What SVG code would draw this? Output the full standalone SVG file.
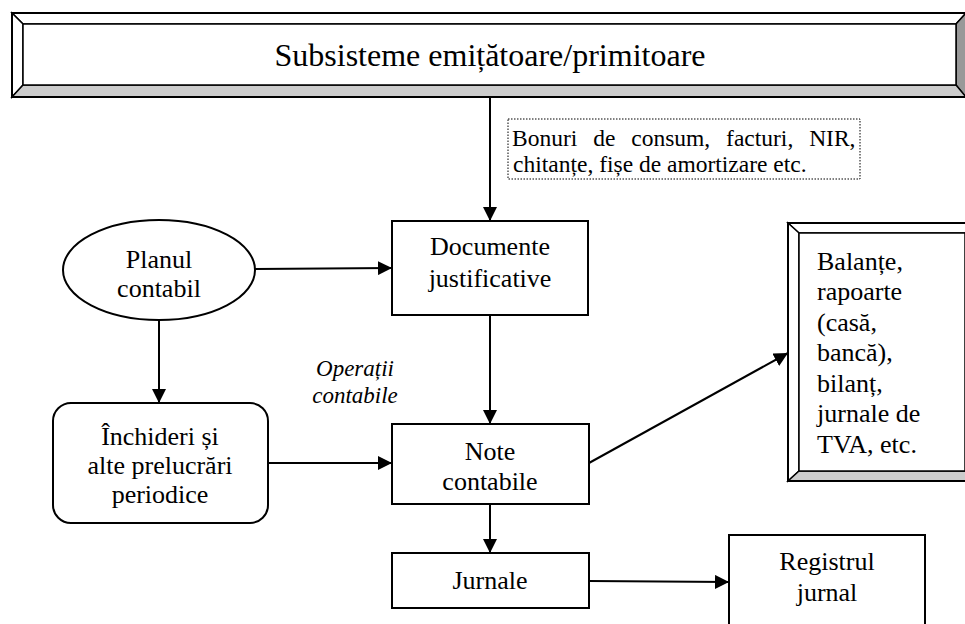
<svg xmlns="http://www.w3.org/2000/svg" width="965" height="624" viewBox="0 0 965 624">
  <style>
    .box { fill: #fff; stroke: #000; stroke-width: 2; }
    .edge { fill: none; stroke: #000; stroke-width: 2; marker-end: url(#arrow); }
    .bevel { stroke: #000; stroke-width: 1.5; stroke-linejoin: miter; }
    text { font-family: 'Liberation Serif', 'Times New Roman', serif; font-size: 26px; fill: #000; }
    .mid { text-anchor: middle; }
    .title { font-size: 32px; }
    .note { font-size: 23.5px; }
    .ital { font-style: italic; font-size: 23px; }
  </style>
  <defs>
    <marker id="arrow" markerUnits="userSpaceOnUse" markerWidth="14" markerHeight="14" refX="14" refY="7" orient="auto">
      <path d="M0,0 L14,7 L0,14 z" fill="#000"/>
    </marker>
  </defs>
  <rect width="965" height="624" fill="#fff"/>

  <!-- bevelled banner -->
  <g id="subsisteme">
    <polygon class="bevel" points="12,13 966,13 956,24 23,24" fill="#fff"/>
    <polygon class="bevel" points="12,13 23,24 23,85 12,97" fill="#fff"/>
    <polygon class="bevel" points="966,13 966,97 956,85 956,24" fill="#999"/>
    <polygon class="bevel" points="12,97 23,85 956,85 966,97" fill="#ccc"/>
    <rect x="23" y="24" width="933" height="61" fill="#fff" stroke="#000" stroke-width="1.5"/>
    <rect x="12" y="13" width="954" height="84" fill="none" stroke="#000" stroke-width="2"/>
    <text class="mid title" x="490" y="66">Subsisteme emițătoare/primitoare</text>
  </g>

  <!-- source documents note (dotted frame, justified first line) -->
  <g id="bonuri">
    <rect x="508" y="119" width="352" height="60" fill="#fff" stroke="#000" stroke-width="1" stroke-dasharray="1.5,1.5"/>
    <text class="note" x="512" y="146" word-spacing="10">Bonuri de consum, facturi, NIR,</text>
    <text class="note" x="513" y="172">chitanțe, fișe de amortizare etc.</text>
  </g>

  <g id="planul">
    <ellipse cx="159" cy="270" rx="96" ry="50" class="box"/>
    <text class="mid" x="159" y="268">Planul</text>
    <text class="mid" x="159" y="297">contabil</text>
  </g>

  <g id="documente">
    <rect x="392" y="221" width="196" height="94" class="box"/>
    <text class="mid" x="490" y="255">Documente</text>
    <text class="mid" x="490" y="287">justificative</text>
  </g>

  <g id="inchideri">
    <rect x="53" y="403" width="215" height="120" rx="18" ry="18" class="box"/>
    <text class="mid" x="160" y="445">Închideri și</text>
    <text class="mid" x="160" y="474">alte prelucrări</text>
    <text class="mid" x="160" y="503">periodice</text>
  </g>

  <g id="operatii">
    <text class="mid ital" x="355" y="376">Operații</text>
    <text class="mid ital" x="355" y="403">contabile</text>
  </g>

  <g id="note">
    <rect x="392" y="424" width="197" height="80" class="box"/>
    <text class="mid" x="490" y="460">Note</text>
    <text class="mid" x="490" y="490">contabile</text>
  </g>

  <g id="jurnale">
    <rect x="392" y="553" width="197" height="55" class="box"/>
    <text class="mid" x="490" y="589">Jurnale</text>
  </g>

  <g id="registrul">
    <rect x="729" y="535" width="196" height="95" class="box"/>
    <text class="mid" x="827" y="570">Registrul</text>
    <text class="mid" x="827" y="601">jurnal</text>
  </g>

  <!-- bevelled report panel, running off the right edge -->
  <g id="balante">
    <polygon class="bevel" points="788,223 975,223 965,233 799,233" fill="#fff"/>
    <polygon class="bevel" points="788,223 799,233 799,471 788,481" fill="#fff"/>
    <polygon class="bevel" points="788,481 799,471 965,471 975,481" fill="#ccc"/>
    <rect x="799" y="233" width="166" height="238" fill="#fff" stroke="#000" stroke-width="1.5"/>
    <rect x="788" y="223" width="187" height="258" fill="none" stroke="#000" stroke-width="2"/>
    <text x="817" y="270">Balanțe,</text>
    <text x="817" y="300">rapoarte</text>
    <text x="817" y="331">(casă,</text>
    <text x="817" y="361">bancă),</text>
    <text x="817" y="392">bilanț,</text>
    <text x="817" y="422">jurnale de</text>
    <text x="817" y="453">TVA, etc.</text>
  </g>

  <g id="connectors">
    <line class="edge" x1="490" y1="97" x2="490" y2="221"/>
    <line class="edge" x1="255" y1="269" x2="392" y2="268"/>
    <line class="edge" x1="159" y1="320" x2="159" y2="403"/>
    <line class="edge" x1="490" y1="315" x2="490" y2="424"/>
    <line class="edge" x1="268" y1="463" x2="392" y2="463"/>
    <line class="edge" x1="490" y1="504" x2="490" y2="553"/>
    <line class="edge" x1="589" y1="463" x2="788" y2="353"/>
    <line class="edge" x1="589" y1="581" x2="729" y2="582"/>
  </g>
</svg>
